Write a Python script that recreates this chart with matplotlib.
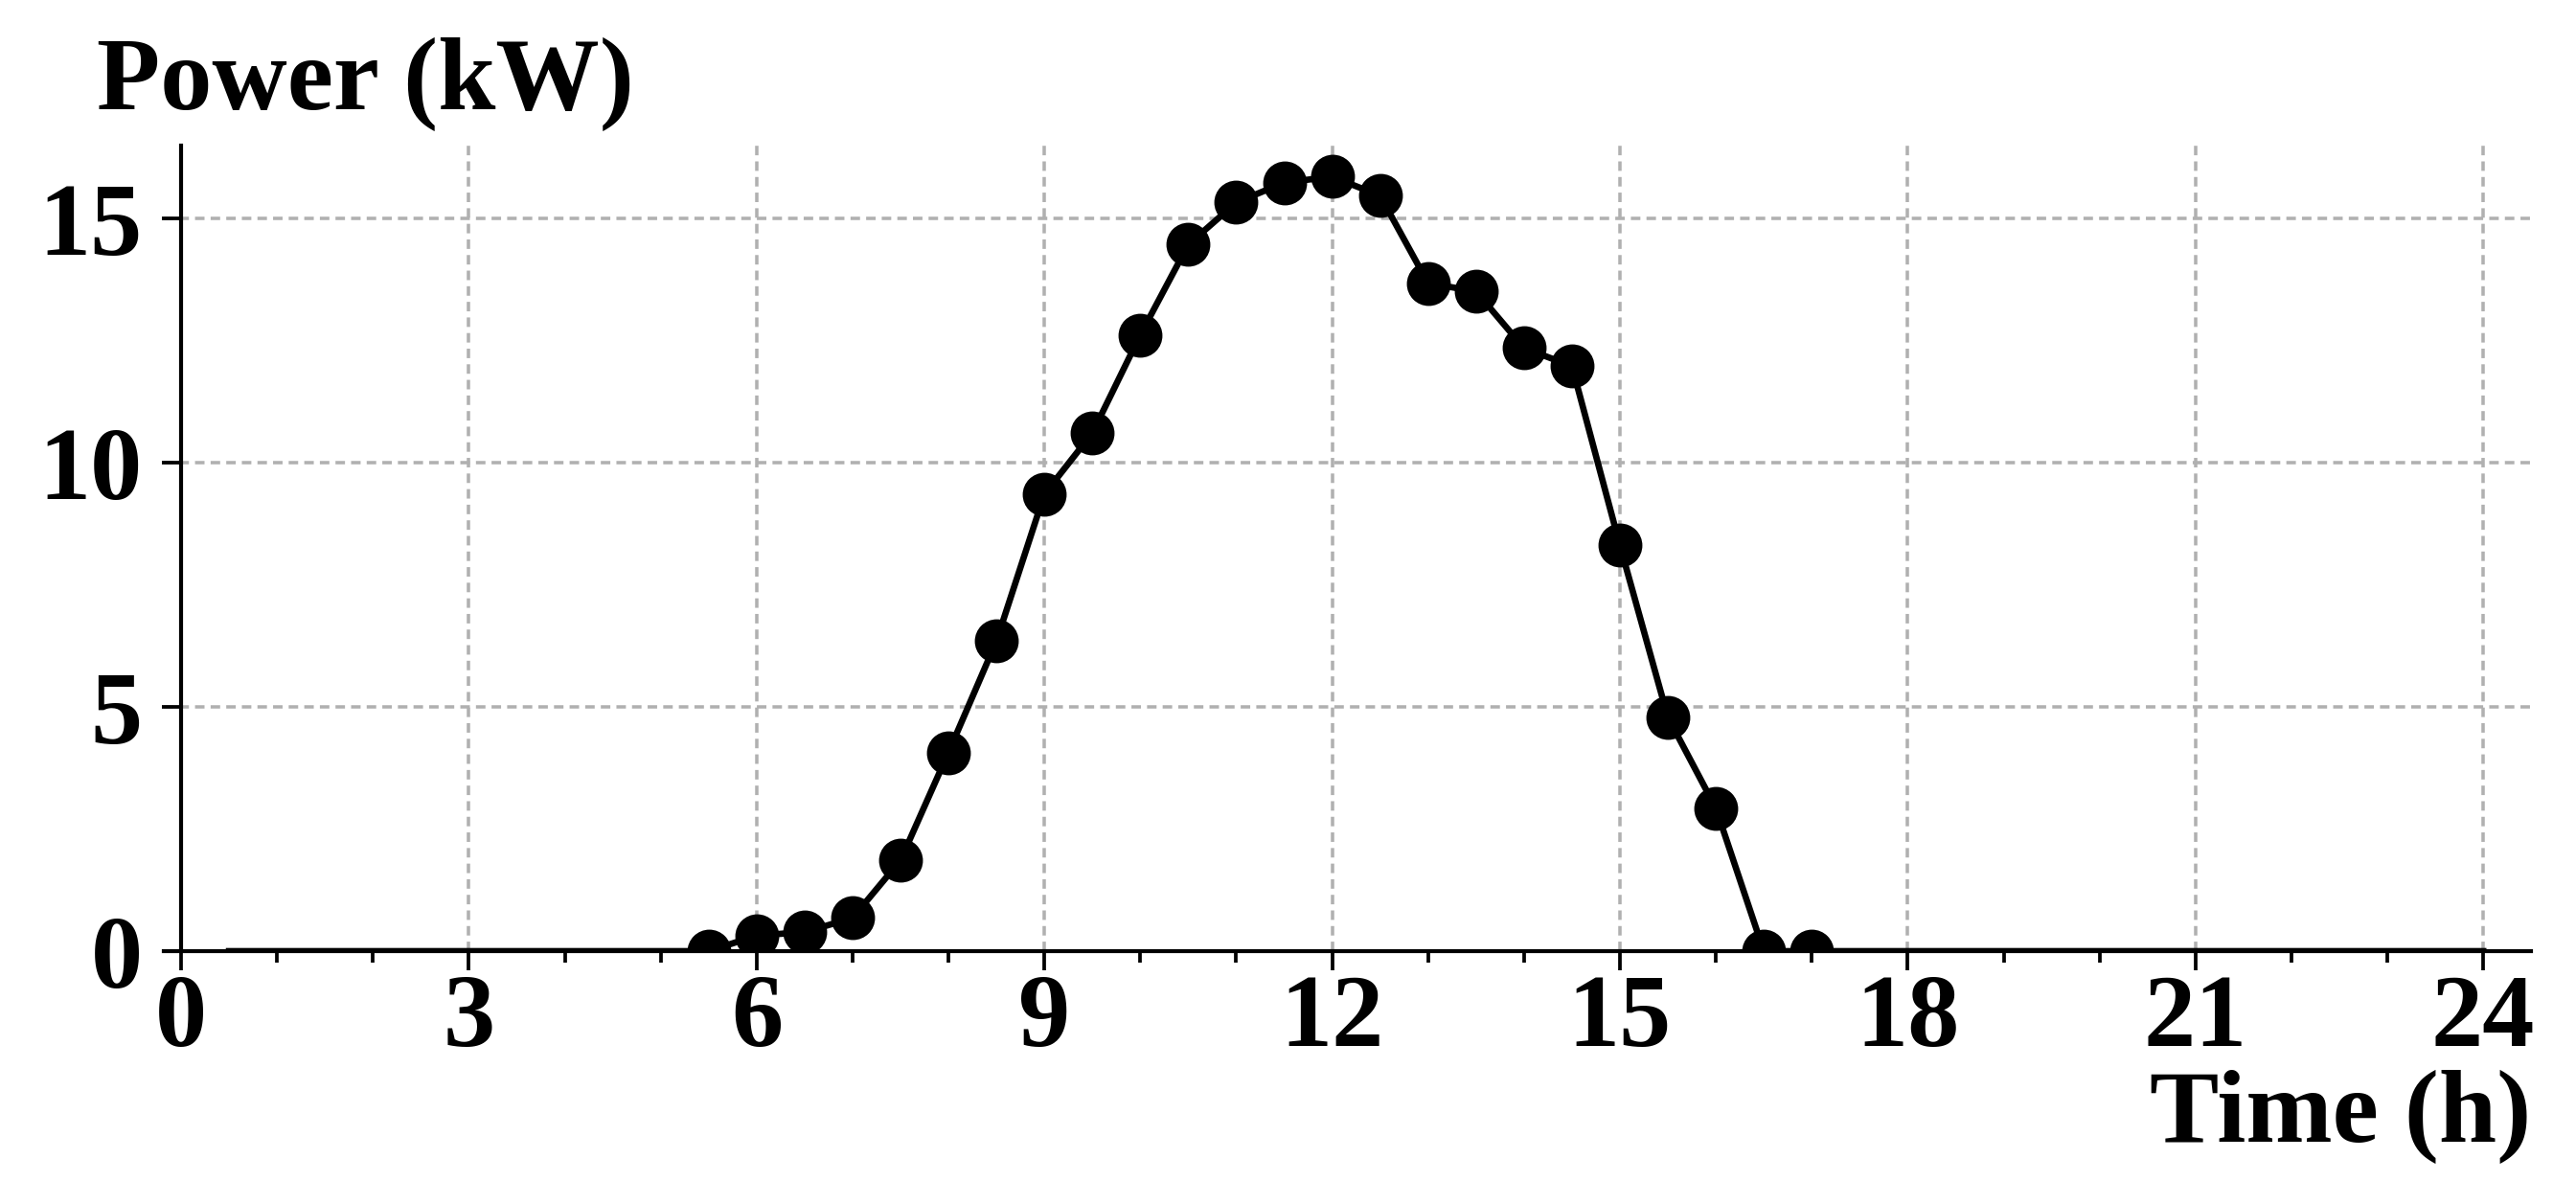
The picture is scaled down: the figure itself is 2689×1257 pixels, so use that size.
import numpy as np
import matplotlib
matplotlib.use("Agg")
import matplotlib.pyplot as plt
from matplotlib.ticker import MultipleLocator

plt.rcParams['font.family'] = ['Liberation Serif', 'DejaVu Serif']
plt.rcParams['font.weight'] = 'bold'

# half-hourly PV output, 0.5 h .. 24 h
hours = np.arange(1, 49) * 0.5
power = [0, 0, 0, 0, 0, 0, 0, 0, 0, 0,            # 0.5 - 5.0
         0, 0.32, 0.39, 0.68, 1.86, 4.07, 6.35, 9.36, 10.61, 12.62,   # 5.5 - 10.0
         14.47, 15.33, 15.74, 15.86, 15.47, 13.68, 13.51, 12.35, 11.98, 8.31,  # 10.5 - 15.0
         4.79, 2.93, 0, 0, 0, 0, 0, 0, 0, 0,      # 15.5 - 20.0
         0, 0, 0, 0, 0, 0, 0, 0]                  # 20.5 - 24.0
xticks = [0, 3, 6, 9, 12, 15, 18, 21, 24]
yticks = [0, 5, 10, 15]

fig = plt.figure(figsize=(2689 / 300, 1257 / 300), dpi=300)
ax = fig.add_axes([0.0636, 0.21, 0.919, 0.6692])

ax.plot(hours, power, color='k', lw=1.6, marker='o', markersize=10,
        markevery=slice(10, 34))

ax.set_xlim(-0.18, 24.5)
ax.set_ylim(0, 16.5)
ax.set_xticks(xticks)
ax.set_yticks(yticks)
ax.xaxis.set_minor_locator(MultipleLocator(1))

ax.spines['top'].set_visible(False)
ax.spines['right'].set_visible(False)
ax.spines['left'].set_position(('data', 0))
for s in ax.spines.values():
    s.set_linewidth(1.0)

ax.tick_params(axis='both', which='major', labelsize=26, length=4.7, width=0.9)
ax.tick_params(axis='x', which='major', pad=1)
ax.tick_params(axis='y', which='major', pad=5)
ax.tick_params(axis='x', which='minor', length=2.8, width=0.9)
for lab in ax.get_xticklabels() + ax.get_yticklabels():
    lab.set_fontweight('bold')

ax.grid(True, which='major', linestyle=(0, (2.8, 1.8)), color='#b0b0b0', lw=0.85)
ax.set_axisbelow(True)

ax.text(-0.0285, 1.0454, 'Power (kW)', transform=ax.transAxes, ha='left',
        va='baseline', fontsize=26, fontweight='bold')
ax.text(1.0, -0.2366, 'Time (h)', transform=ax.transAxes, ha='right',
        va='baseline', fontsize=26, fontweight='bold')

fig.savefig('out.png', dpi=300)
